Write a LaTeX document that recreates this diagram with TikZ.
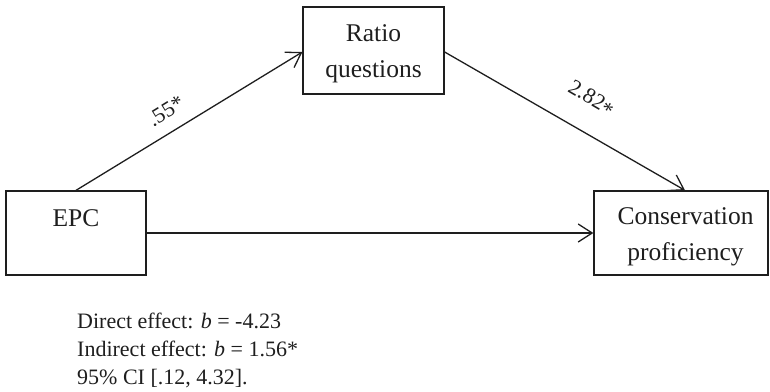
\documentclass[tikz,border=0pt]{standalone}
\usepackage{fontspec}
\setmainfont{Liberation Serif}
\usetikzlibrary{arrows.meta}
\definecolor{ink}{RGB}{30,30,30}
\begin{document}
\begin{tikzpicture}[x=1pt,y=-1pt,
  boxnode/.style={draw=ink, line width=1.3pt, inner sep=0pt},
  boxtext/.style={anchor=base, inner sep=0pt, text=ink, font=\fontsize{25.5}{36}\selectfont},
  conn/.style={draw=ink, line width=1.3pt, -{Straight Barb[length=14pt,width=18pt]}},
  lab/.style={inner sep=0pt, text=ink, font=\fontsize{22}{24}\selectfont},
  note/.style={anchor=base west, inner sep=0pt, text=ink, font=\fontsize{22}{28}\selectfont}]
\useasboundingbox (0,0) rectangle (770,391);
% boxes
\node[boxnode, minimum width=141pt, minimum height=87pt] (ratio) at (373.5,50.5) {};
\node[boxnode, minimum width=140pt, minimum height=84pt] (epc) at (76,233) {};
\node[boxnode, minimum width=174pt, minimum height=84pt] (cons) at (681,233) {};
% box texts
\node[boxtext] (ratio1) at (373.5,41.7) {Ratio};
\node[boxtext] (ratio2) at (373.5,77.7) {questions};
\node[boxtext] (epct) at (76,226) {EPC};
\node[boxtext] (cons1) at (685.5,224) {Conservation};
\node[boxtext] (cons2) at (685.5,260) {proficiency};
% connectors
\draw[conn] (epc.north) -- ([yshift=-1.5pt]ratio.west);
\draw[conn] ([yshift=-1.5pt]ratio.east) -- ([xshift=4pt]cons.north);
\draw[conn] (epc.east) -- (cons.west);
% connector labels
\node[lab, rotate=31.6] (la) at (166,111) {.55*};
\node[lab, rotate=-30.2] (lb) at (591,99) {2.82\raisebox{-0.35ex}{*}};
% notes
\node[note] (n1) at (77,328) {Direct effect: \textit{b} = -4.23};
\node[note] (n2) at (77,356) {Indirect effect: \textit{b} = 1.56*};
\node[note] (n3) at (77,384) {95\% CI [.12, 4.32].};
\end{tikzpicture}
\end{document}
